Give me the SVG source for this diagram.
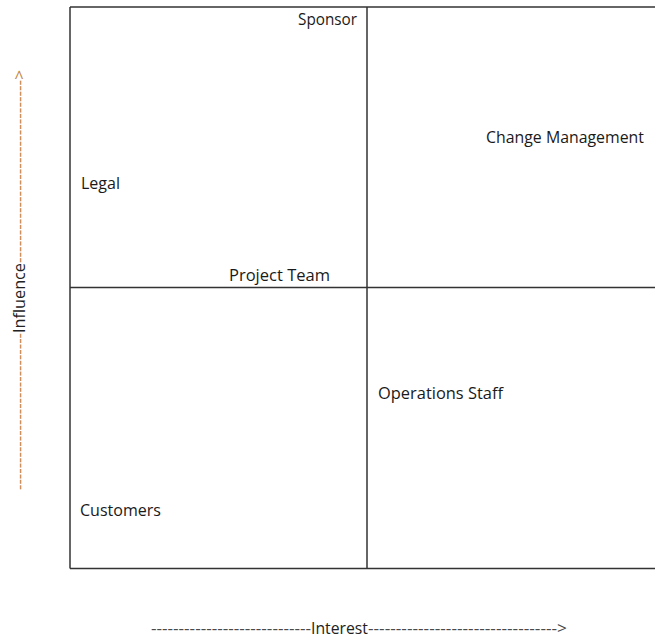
<svg xmlns="http://www.w3.org/2000/svg" width="655" height="638" viewBox="0 0 655 638">
  <style>
    .lbl { font-family: "Open Sans", "Liberation Sans", sans-serif; font-size: 17px; fill: #1a1a1a; }
    .ax { font-family: "Open Sans", "Liberation Sans", sans-serif; font-size: 17px; fill: #222222; }
    .dash { fill: #4a4a4a; }
    .vdash { fill: #c0843e; }
    .grid { stroke: #333333; stroke-width: 1.5; fill: none; }
  </style>
  <rect width="655" height="638" fill="#ffffff"/>
  <g id="connectors">
    <line class="grid" x1="70" y1="7" x2="655" y2="7"/>
    <line class="grid" x1="70" y1="7" x2="70" y2="568.5"/>
    <line class="grid" x1="70" y1="568.5" x2="655" y2="568.5"/>
    <line class="grid" x1="367" y1="7" x2="367" y2="568.5"/>
    <line class="grid" x1="70" y1="287.5" x2="655" y2="287.5"/>
  </g>
  <g id="node-sponsor"><text class="lbl" x="298" y="25" textLength="59" lengthAdjust="spacingAndGlyphs">Sponsor</text></g>
  <g id="node-change-management"><text class="lbl" x="486" y="143" textLength="158" lengthAdjust="spacingAndGlyphs">Change Management</text></g>
  <g id="node-legal"><text class="lbl" x="81" y="189" textLength="39" lengthAdjust="spacingAndGlyphs">Legal</text></g>
  <g id="node-project-team"><text class="lbl" x="229" y="281" textLength="101" lengthAdjust="spacingAndGlyphs">Project Team</text></g>
  <g id="node-operations-staff"><text class="lbl" x="378" y="399" textLength="125" lengthAdjust="spacingAndGlyphs">Operations Staff</text></g>
  <g id="node-customers"><text class="lbl" x="80" y="516" textLength="81" lengthAdjust="spacingAndGlyphs">Customers</text></g>
  <g id="axis-interest">
    <text class="ax dash" x="151" y="634" textLength="160" lengthAdjust="spacingAndGlyphs">-----------------------------</text>
    <text class="ax" x="311" y="634" textLength="57" lengthAdjust="spacingAndGlyphs">Interest</text>
    <text class="ax dash" x="368" y="634" textLength="199" lengthAdjust="spacingAndGlyphs">----------------------------------&gt;</text>
  </g>
  <g id="axis-influence" transform="translate(25,490) rotate(-90)">
    <text class="ax vdash" x="0" y="0" textLength="157" lengthAdjust="spacingAndGlyphs">-----------------------------</text>
    <text class="ax" x="157" y="0" textLength="70" lengthAdjust="spacingAndGlyphs">Influence</text>
    <text class="ax vdash" x="227" y="0" textLength="193" lengthAdjust="spacingAndGlyphs">---------------------------------&gt;</text>
  </g>
</svg>
